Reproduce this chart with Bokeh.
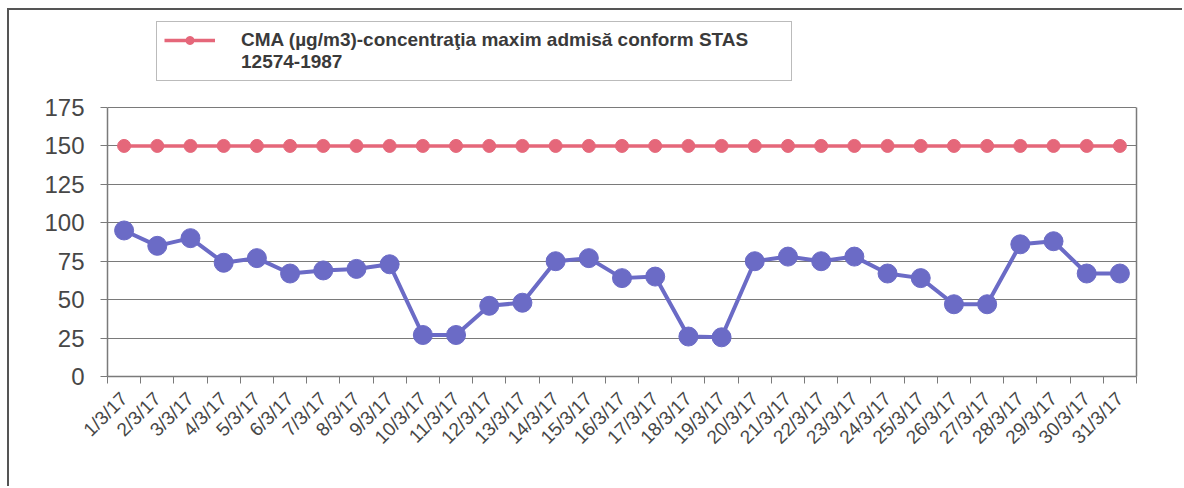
import math
from bokeh.plotting import figure
from bokeh.models import Range1d, FixedTicker, Legend, LegendItem, ColumnDataSource, LinearAxis
from bokeh.embed import file_html
from bokeh.resources import INLINE

# ---- data ----
dates = ["1/3/17", "2/3/17", "3/3/17", "4/3/17", "5/3/17", "6/3/17", "7/3/17", "8/3/17",
         "9/3/17", "10/3/17", "11/3/17", "12/3/17", "13/3/17", "14/3/17", "15/3/17", "16/3/17",
         "17/3/17", "18/3/17", "19/3/17", "20/3/17", "21/3/17", "22/3/17", "23/3/17", "24/3/17",
         "25/3/17", "26/3/17", "27/3/17", "28/3/17", "29/3/17", "30/3/17", "31/3/17"]
measured = [95, 85, 90, 74, 77, 67, 69, 70, 73, 27, 27, 46, 48, 75, 77, 64,
            65, 26, 25.5, 75, 78, 75, 78, 67, 64, 47, 47, 86, 88, 67, 67]
cma = [150, 150, 150, 150, 150, 150, 150, 150, 150, 150, 150, 150, 150, 150, 150, 150,
       150, 150, 150, 150, 150, 150, 150, 150, 150, 150, 150, 150, 150, 150, 150]
cma_label_lines = ["CMA (µg/m3)-concentraţia maxim admisă conform STAS", "12574-1987"]
y_ticks = [0, 25, 50, 75, 100, 125, 150, 175]
y_max = 175

pos = [i + 1 for i in range(len(dates))]
src = ColumnDataSource(dict(x=pos, m=measured, c=cma))

FONT = "Liberation Sans"
TXT = "#474747"
RED = "#E5677A"
BLUE = "#6B6BC6"
GRID = "#7a7a7a"

W, H = 1175, 478
FRAME_BOTTOM = 366          # canvas px
PLOT_H = 269                # px covered by 0..175
y_top = y_max * FRAME_BOTTOM / PLOT_H   # frame extends to canvas top (legend lives inside)

p = figure(width=W, height=H, output_backend="svg", toolbar_location=None,
           x_range=Range1d(0.5, len(dates) + 0.5), y_range=Range1d(0, y_top),
           min_border_left=98, min_border_right=48, min_border_top=0,
           min_border_bottom=H - FRAME_BOTTOM)
p.background_fill_color = "white"
p.border_fill_color = "white"
p.outline_line_color = None
p.styles = {"margin-left": "7px", "margin-top": "8px",
            "border-left": "2px solid #555555", "border-top": "2px solid #555555"}

yt = FixedTicker(ticks=y_ticks)
p.yaxis.ticker = yt
p.ygrid.ticker = yt
p.ygrid.grid_line_color = GRID
p.ygrid.grid_line_width = 1.2
p.xgrid.visible = False
p.yaxis.bounds = (0, y_max)

xt = FixedTicker(ticks=pos, minor_ticks=[i + 0.5 for i in range(len(dates) + 1)])
p.xaxis.ticker = xt
p.xaxis.major_label_overrides = {x: d for x, d in zip(pos, dates)}
p.xaxis.major_label_orientation = math.pi / 4
p.xaxis.major_tick_out = 0
p.xaxis.major_tick_in = 0
p.xaxis.minor_tick_out = 7
p.xaxis.minor_tick_in = 0
p.xaxis.major_label_standoff = 12

for ax in (p.xaxis, p.yaxis):
    ax.axis_line_color = GRID
    ax.axis_line_width = 1.5
    ax.major_tick_line_color = GRID
    ax.minor_tick_line_color = GRID
    ax.major_label_text_font = FONT
    ax.major_label_text_color = TXT

p.xaxis.major_label_text_font_size = "19px"
p.yaxis.major_label_text_font_size = "24px"
p.yaxis.major_tick_out = 7
p.yaxis.major_tick_in = 0
p.yaxis.minor_tick_out = 0
p.yaxis.minor_tick_in = 0
p.yaxis.major_label_standoff = 16

# right border of the plot area
rax = LinearAxis(ticker=FixedTicker(ticks=[]), bounds=(0, y_max))
rax.axis_line_color = GRID
rax.axis_line_width = 1.5
rax.major_tick_out = 0
rax.major_tick_in = 0
rax.minor_tick_out = 0
rax.minor_tick_in = 0
rax.major_label_text_color = None
p.add_layout(rax, "right")

rl = p.line("x", "c", source=src, line_color=RED, line_width=3.5)
rs = p.scatter("x", "c", source=src, size=13, fill_color=RED, line_color=RED)
p.line("x", "m", source=src, line_color=BLUE, line_width=4)
p.scatter("x", "m", source=src, size=19, fill_color=BLUE, line_color=BLUE)
# invisible renderer that carries the second line of the legend label
ghost = p.line("x", "c", source=src, line_alpha=0)

leg = Legend(items=[LegendItem(label=cma_label_lines[0], renderers=[rl, rs]),
                    LegendItem(label=cma_label_lines[1], renderers=[ghost])],
             location=(49, 295))
leg.label_text_font = FONT
leg.label_text_font_style = "bold"
leg.label_text_font_size = "19px"
leg.label_text_color = "#3a3a3a"
leg.border_line_color = "#777777"
leg.border_line_width = 1.5
leg.padding = 7
leg.spacing = 0
leg.margin = 0
leg.glyph_width = 51
leg.glyph_height = 20
leg.label_standoff = 26
leg.label_width = 543
leg.background_fill_alpha = 1
p.add_layout(leg)

open("out.html", "w").write(file_html(p, INLINE))
